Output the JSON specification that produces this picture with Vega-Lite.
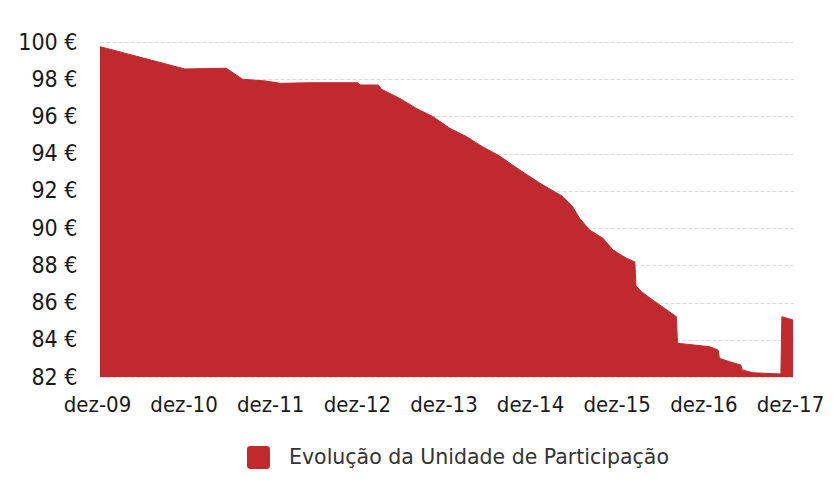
{
  "$schema": "https://vega.github.io/schema/vega-lite/v6.json",
  "width": 693,
  "height": 335,
  "autosize": {"type": "none"},
  "padding": {"left": 100, "top": 42, "right": 41, "bottom": 111},
  "background": "white",
  "config": {
    "view": {"stroke": null},
    "font": "DejaVu Sans"
  },
  "data": {
    "values": [
      {"date": "2009-12-01", "valor": 99.75, "serie": "Evolução da Unidade de Participação"},
      {"date": "2010-11-24", "valor": 98.55, "serie": "Evolução da Unidade de Participação"},
      {"date": "2011-05-17", "valor": 98.59, "serie": "Evolução da Unidade de Participação"},
      {"date": "2011-07-25", "valor": 98.0, "serie": "Evolução da Unidade de Participação"},
      {"date": "2011-11-03", "valor": 97.9, "serie": "Evolução da Unidade de Participação"},
      {"date": "2011-12-29", "valor": 97.78, "serie": "Evolução da Unidade de Participação"},
      {"date": "2012-05-04", "valor": 97.81, "serie": "Evolução da Unidade de Participação"},
      {"date": "2012-11-23", "valor": 97.81, "serie": "Evolução da Unidade de Participação"},
      {"date": "2012-12-01", "valor": 97.69, "serie": "Evolução da Unidade de Participação"},
      {"date": "2013-02-16", "valor": 97.69, "serie": "Evolução da Unidade de Participação"},
      {"date": "2013-03-02", "valor": 97.46, "serie": "Evolução da Unidade de Participação"},
      {"date": "2013-05-18", "valor": 96.97, "serie": "Evolução da Unidade de Participação"},
      {"date": "2013-07-27", "valor": 96.43, "serie": "Evolução da Unidade de Participação"},
      {"date": "2013-10-05", "valor": 95.99, "serie": "Evolução da Unidade de Participação"},
      {"date": "2013-12-15", "valor": 95.36, "serie": "Evolução da Unidade de Participação"},
      {"date": "2014-02-24", "valor": 94.91, "serie": "Evolução da Unidade de Participação"},
      {"date": "2014-05-02", "valor": 94.37, "serie": "Evolução da Unidade de Participação"},
      {"date": "2014-07-13", "valor": 93.87, "serie": "Evolução da Unidade de Participação"},
      {"date": "2014-10-06", "valor": 93.12, "serie": "Evolução da Unidade de Participação"},
      {"date": "2014-12-30", "valor": 92.41, "serie": "Evolução da Unidade de Participação"},
      {"date": "2015-04-06", "valor": 91.69, "serie": "Evolução da Unidade de Participação"},
      {"date": "2015-05-17", "valor": 91.15, "serie": "Evolução da Unidade de Participação"},
      {"date": "2015-06-15", "valor": 90.53, "serie": "Evolução da Unidade de Participação"},
      {"date": "2015-07-27", "valor": 89.9, "serie": "Evolução da Unidade de Participação"},
      {"date": "2015-09-22", "valor": 89.45, "serie": "Evolução da Unidade de Participação"},
      {"date": "2015-11-03", "valor": 88.82, "serie": "Evolução da Unidade de Participação"},
      {"date": "2015-12-30", "valor": 88.38, "serie": "Evolução da Unidade de Participação"},
      {"date": "2016-02-03", "valor": 88.18, "serie": "Evolução da Unidade de Participação"},
      {"date": "2016-02-08", "valor": 86.89, "serie": "Evolução da Unidade de Participação"},
      {"date": "2016-03-02", "valor": 86.58, "serie": "Evolução da Unidade de Participação"},
      {"date": "2016-04-18", "valor": 86.14, "serie": "Evolução da Unidade de Participação"},
      {"date": "2016-07-27", "valor": 85.24, "serie": "Evolução da Unidade de Participação"},
      {"date": "2016-08-01", "valor": 83.81, "serie": "Evolução da Unidade de Participação"},
      {"date": "2016-12-15", "valor": 83.63, "serie": "Evolução da Unidade de Participação"},
      {"date": "2017-01-19", "valor": 83.45, "serie": "Evolução da Unidade de Participação"},
      {"date": "2017-01-25", "valor": 83.0, "serie": "Evolução da Unidade de Participação"},
      {"date": "2017-03-09", "valor": 82.82, "serie": "Evolução da Unidade de Participação"},
      {"date": "2017-04-25", "valor": 82.64, "serie": "Evolução da Unidade de Participação"},
      {"date": "2017-05-01", "valor": 82.38, "serie": "Evolução da Unidade de Participação"},
      {"date": "2017-06-14", "valor": 82.23, "serie": "Evolução da Unidade de Participação"},
      {"date": "2017-10-11", "valor": 82.16, "serie": "Evolução da Unidade de Participação"},
      {"date": "2017-10-15", "valor": 85.24, "serie": "Evolução da Unidade de Participação"},
      {"date": "2017-12-01", "valor": 85.06, "serie": "Evolução da Unidade de Participação"}
    ]
  },
  "mark": {"type": "area", "opacity": 1, "fillOpacity": 1, "line": {"color": "#A8191E", "strokeWidth": 1}, "interpolate": "linear", "clip": true},
  "encoding": {
    "x": {
      "field": "date",
      "type": "temporal",
      "scale": {"type": "utc", "domain": [{"year": 2009, "month": 12, "date": 1, "utc": true}, {"year": 2017, "month": 12, "date": 1, "utc": true}]},
      "axis": {
        "title": null,
        "values": [
          {"year": 2009, "month": 12, "date": 1, "utc": true},
          {"year": 2010, "month": 12, "date": 1, "utc": true},
          {"year": 2011, "month": 12, "date": 1, "utc": true},
          {"year": 2012, "month": 12, "date": 1, "utc": true},
          {"year": 2013, "month": 12, "date": 1, "utc": true},
          {"year": 2014, "month": 12, "date": 1, "utc": true},
          {"year": 2015, "month": 12, "date": 1, "utc": true},
          {"year": 2016, "month": 12, "date": 1, "utc": true},
          {"year": 2017, "month": 12, "date": 1, "utc": true}
        ],
        "labelExpr": "'dez-' + utcFormat(datum.value, '%y')",
        "grid": false,
        "ticks": false,
        "domain": false,
        "labelFont": "DejaVu Sans Condensed",
        "labelFontSize": 22,
        "labelColor": "#1a1a1a",
        "labelPadding": 17,
        "labelFlush": false,
        "labelOverlap": false,
        "labelOffset": -3
      }
    },
    "y": {
      "field": "valor",
      "type": "quantitative",
      "scale": {"domain": [82, 100], "nice": false, "zero": false},
      "axis": {
        "title": null,
        "values": [82, 84, 86, 88, 90, 92, 94, 96, 98, 100],
        "labelExpr": "datum.value + ' €'",
        "grid": true,
        "gridColor": "#DADADA",
        "gridWidth": 1,
        "gridDash": [4, 2],
        "ticks": false,
        "domain": false,
        "labelFont": "DejaVu Sans Condensed",
        "labelFontSize": 23,
        "labelColor": "#1a1a1a",
        "labelPadding": 23
      }
    },
    "color": {
      "field": "serie",
      "type": "nominal",
      "scale": {"range": ["#C0292E"]},
      "legend": {
        "title": null,
        "orient": "none",
        "legendX": 147,
        "legendY": 404,
        "symbolType": "M-0.7,-1 L0.7,-1 Q1,-1 1,-0.7 L1,0.7 Q1,1 0.7,1 L-0.7,1 Q-1,1 -1,0.7 L-1,-0.7 Q-1,-1 -0.7,-1 Z",
        "symbolSize": 529,
        "symbolStrokeWidth": 0,
        "symbolOpacity": 1,
        "labelFont": "DejaVu Sans",
        "labelFontSize": 20.5,
        "labelColor": "#333333",
        "labelOffset": 19,
        "labelLimit": 600
      }
    }
  }
}
